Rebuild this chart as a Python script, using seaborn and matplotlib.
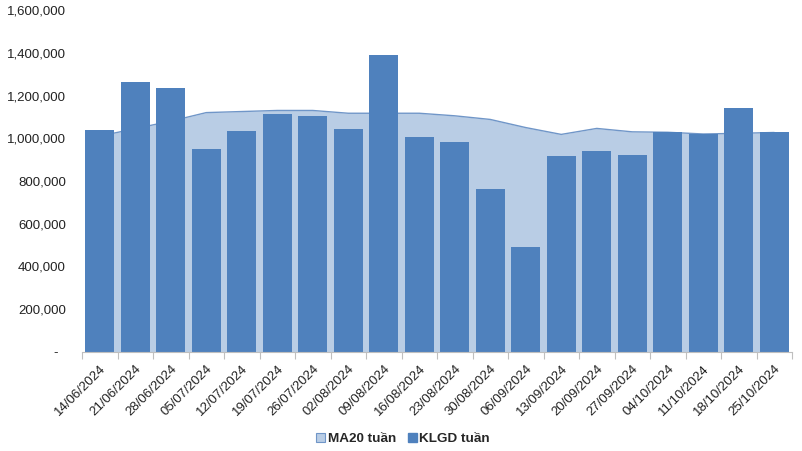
import matplotlib
matplotlib.use("Agg")
import matplotlib.pyplot as plt
import matplotlib.ticker as mticker
from matplotlib.patches import Patch
import numpy as np
import pandas as pd
import seaborn as sns

weeks = ["14/06/2024", "21/06/2024", "28/06/2024", "05/07/2024", "12/07/2024",
         "19/07/2024", "26/07/2024", "02/08/2024", "09/08/2024", "16/08/2024",
         "23/08/2024", "30/08/2024", "06/09/2024", "13/09/2024", "20/09/2024",
         "27/09/2024", "04/10/2024", "11/10/2024", "18/10/2024", "25/10/2024"]
klgd = [1038000, 1263000, 1235000, 950000, 1034000,
        1113000, 1104000, 1043000, 1389000, 1006000,
        982000, 763000, 493000, 917000, 940000,
        922000, 1028000, 1021000, 1142000, 1029000]
ma20 = [1010000, 1045000, 1080000, 1120000, 1125000,
        1130000, 1130000, 1117000, 1117000, 1117000,
        1105000, 1088000, 1050000, 1018000, 1046000,
        1030000, 1028000, 1020000, 1023000, 1027000]
yticks = [0, 200000, 400000, 600000, 800000, 1000000, 1200000, 1400000, 1600000]
legend_labels = ["MA20 tuần", "KLGD tuần"]

BAR = "#4F81BD"
AREA = "#B9CDE5"
AREA_LINE = "#7096C8"

sns.set_theme(style="white")
plt.rcParams["font.family"] = ["Liberation Sans", "DejaVu Sans"]

df = pd.DataFrame({"week": weeks, "klgd": klgd, "ma20": ma20})
df["pos"] = np.arange(len(weeks))

fig = plt.figure(figsize=(8.02, 4.51), dpi=100)
ax = fig.add_axes([82 / 802, 1 - 352 / 451, 710 / 802, 342 / 451])

ax.fill_between(df["pos"], 0, df["ma20"], color=AREA, zorder=1, linewidth=0)
sns.lineplot(data=df, x="pos", y="ma20", ax=ax, color=AREA_LINE, linewidth=1.0, zorder=1.5)
sns.barplot(data=df, x="week", y="klgd", ax=ax, color=BAR, saturation=1,
            width=0.82, zorder=2, linewidth=0, edgecolor=BAR)

ax.set_xlim(-0.5, len(weeks) - 0.5)
ax.set_ylim(0, 1600000)
ax.set_yticks(yticks)
ax.yaxis.set_major_formatter(mticker.FuncFormatter(lambda v, p: "-  " if v == 0 else f"{int(v):,}"))
ax.set_xlabel("")
ax.set_ylabel("")

ax.set_xticks(np.arange(len(weeks)))
ax.set_xticklabels(weeks, rotation=45, ha="right", rotation_mode="anchor")
ax.set_xticks(np.arange(len(weeks) + 1) - 0.5, minor=True)
ax.tick_params(axis="x", which="major", length=0, pad=8, labelsize=9.5, colors="#222222")
ax.tick_params(axis="x", which="minor", length=5, color="#BFBFBF", width=0.8, bottom=True)
ax.tick_params(axis="y", length=0, pad=11.5, labelsize=9.5, colors="#222222")

for s in ["top", "right", "left"]:
    ax.spines[s].set_visible(False)
ax.spines["bottom"].set_color("#BFBFBF")
ax.spines["bottom"].set_linewidth(0.8)
ax.spines["bottom"].set_zorder(3)
ax.grid(False)

handles = [Patch(facecolor=AREA, edgecolor=AREA_LINE, linewidth=0.8),
           Patch(facecolor=BAR, edgecolor=BAR)]
fig.legend(handles, legend_labels, loc="center", bbox_to_anchor=(403 / 802, 1 - 439 / 451),
           ncol=2, frameon=False, prop={"weight": "bold", "size": 9.7},
           handlelength=0.7, handleheight=0.7, handletextpad=0.15, columnspacing=0.9)

fig.savefig("out.png", dpi=100)
